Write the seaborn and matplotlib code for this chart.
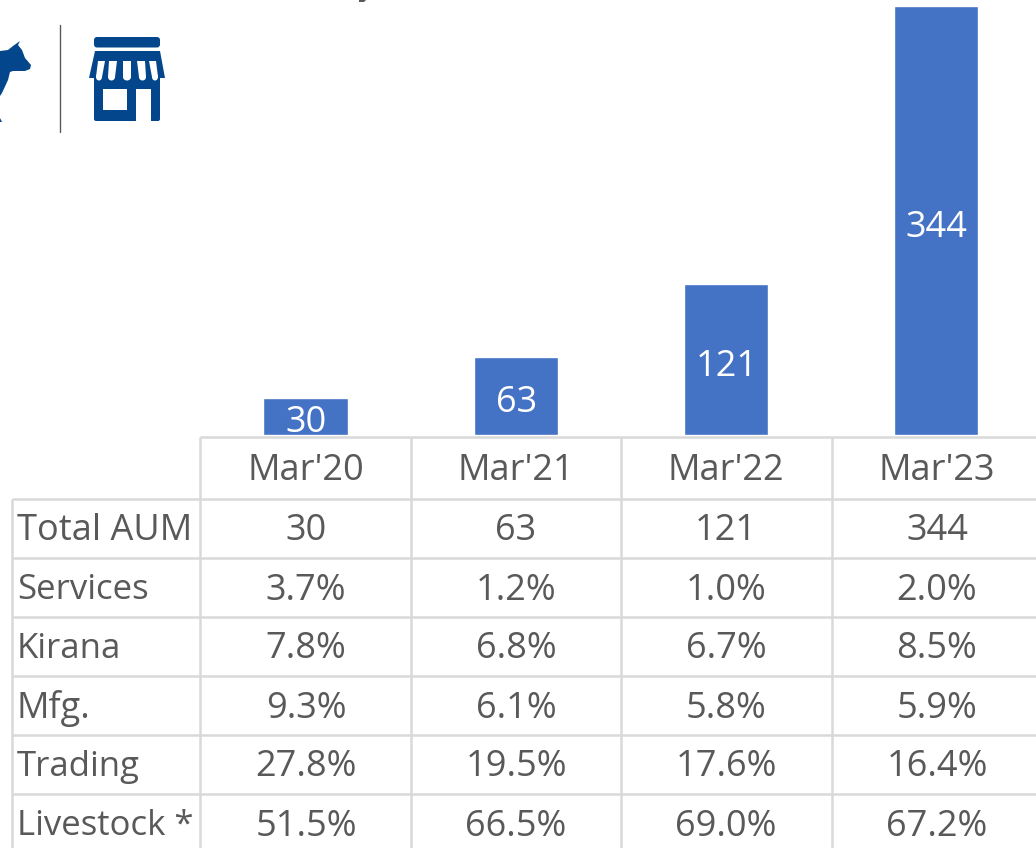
import matplotlib
matplotlib.use("Agg")
import matplotlib.pyplot as plt
from matplotlib.patches import Ellipse, FancyBboxPatch, Polygon, Rectangle
import pandas as pd
import seaborn as sns

# chart values
periods = ["Mar'20", "Mar'21", "Mar'22", "Mar'23"]
total_aum = [30, 63, 121, 344]

# table rows
row_names = ["Total AUM", "Services", "Kirana", "Mfg.", "Trading", "Livestock *"]
total_row = ["30", "63", "121", "344"]
services = ["3.7%", "1.2%", "1.0%", "2.0%"]
kirana = ["7.8%", "6.8%", "6.7%", "8.5%"]
mfg = ["9.3%", "6.1%", "5.8%", "5.9%"]
trading = ["27.8%", "19.5%", "17.6%", "16.4%"]
livestock = ["51.5%", "66.5%", "69.0%", "67.2%"]

W, H = 1036, 848
BLUE = "#4472C4"
ICON = "#03468C"
GRID = "#D9D9D9"
TEXT = "#595959"
FS = 26
GRID_LW = 1.8

sns.set_theme(style="white")
plt.rcParams["font.family"] = ["Open Sans", "DejaVu Sans"]

fig = plt.figure(figsize=(W / 100, H / 100), dpi=100)

# overlay in pixel coords for the table and icons
ov = fig.add_axes([0, 0, 1, 1])
ov.set_xlim(0, W)
ov.set_ylim(H, 0)
ov.axis("off")

# bars
ax = fig.add_axes([200.3 / W, (H - 435) / H, (W - 200.3) / W, 435 / H])
ax.patch.set_alpha(0)
df = pd.DataFrame({"period": periods, "aum": total_aum})
sns.barplot(data=df, x="period", y="aum", color=BLUE, saturation=1, width=0.4, ax=ax)
ax.set_xlim(-0.5, 3.474)
ax.set_ylim(0, 435 / 1.246)
ax.axis("off")
for i, v in enumerate(total_aum):
    ax.annotate(str(v), (i, v / 2), xytext=(0.4, -1.8), textcoords="offset points",
                ha="center", va="center_baseline", color="white", fontsize=FS)

# table grid
col_x = [200, 411, 621, 832]
row_y = [499, 558, 617, 676, 735, 794]
col_mid = [306, 516, 726, 937]
for x in col_x:
    ov.plot([x, x], [437, H], color=GRID, lw=GRID_LW, solid_capstyle="butt")
ov.plot([12, 12], [499, H], color=GRID, lw=GRID_LW, solid_capstyle="butt")
ov.plot([200, W], [437, 437], color=GRID, lw=GRID_LW, solid_capstyle="butt")
for y in row_y:
    ov.plot([12, W], [y, y], color=GRID, lw=GRID_LW, solid_capstyle="butt")

# table text
for x, p in zip(col_mid, periods):
    ov.text(x, 467, p, ha="center", va="center_baseline", color=TEXT, fontsize=FS)
rows = [total_row, services, kirana, mfg, trading, livestock]
for k, (name, vals) in enumerate(zip(row_names, rows)):
    y = 527 + k * 59
    size = 26 if name in ("Total AUM", "Mfg.") else 25
    ov.text(17, y, name, ha="left", va="center_baseline", color=TEXT, fontsize=size)
    for x, v in zip(col_mid, vals):
        ov.text(x, y, v, ha="center", va="center_baseline", color=TEXT, fontsize=FS)

# speck left over from the cropped heading at the top edge
ov.add_patch(Polygon([[359, 0], [366, 0], [364, 2], [359, 2]], fc=TEXT, ec="none"))

# divider
ov.plot([60, 60], [25, 132], color="#595959", lw=1)

# shop icon
ov.add_patch(FancyBboxPatch((94, 37), 66, 10.5, boxstyle="round,pad=0,rounding_size=3", fc=ICON, ec="none"))
ov.add_patch(Polygon([[95, 51], [160, 51], [165, 78], [89, 78]], fc=ICON, ec="none", joinstyle="round"))
ov.add_patch(FancyBboxPatch((94, 70), 66, 51, boxstyle="round,pad=0,rounding_size=2", fc=ICON, ec="none"))
slots = [(98, 105, 96, 102), (109, 117, 108, 115), (123, 131, 123, 131), (137, 145, 139, 146), (149, 156, 152, 158)]
for t0, t1, b0, b1 in slots:
    ov.add_patch(Polygon([[t0, 61], [t1, 61], [b1, 77], [b0, 77]], fc="white", ec="none"))
    ov.add_patch(Ellipse(((b0 + b1) / 2, 77), b1 - b0, 7, fc="white", ec="none"))
ov.add_patch(Rectangle((103, 89), 24, 21, fc="white", ec="none"))
ov.add_patch(Rectangle((136, 89), 15, 33, fc="white", ec="none"))

# cropped cow
ov.add_patch(Polygon([[0, 51], [8, 50], [13, 46], [20, 41], [18, 45], [22, 50], [25, 58], [31, 65],
                      [30, 69], [25, 71], [13, 71], [10, 72], [8, 80], [2, 93], [0, 96]],
                     fc=ICON, ec="none"))
ov.add_patch(Polygon([[0, 118], [2, 122], [0, 122]], fc=ICON, ec="none"))

fig.savefig("out.png", dpi=100)
